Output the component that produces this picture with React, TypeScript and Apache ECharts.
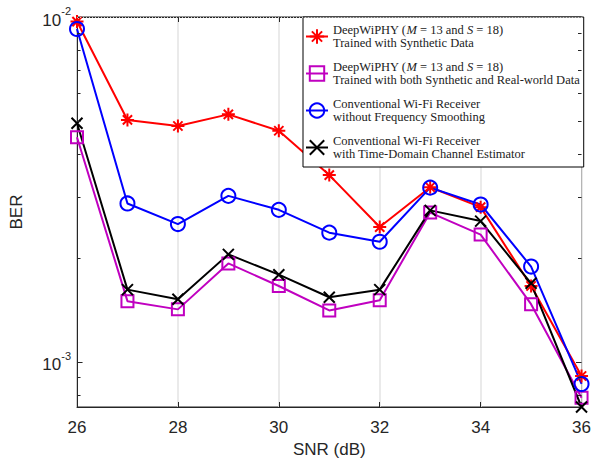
import React, { useEffect, useRef } from "react";
import * as echarts from "echarts";

const snr = [26, 27, 28, 29, 30, 31, 32, 33, 34, 35, 36];
const deepSynthetic = [9.7e-3, 5.03e-3, 4.83e-3, 5.22e-3, 4.68e-3, 3.48e-3, 2.46e-3, 3.21e-3, 2.81e-3, 1.66e-3, 9.1e-4];
const deepBoth = [4.48e-3, 1.5e-3, 1.42e-3, 1.93e-3, 1.66e-3, 1.41e-3, 1.51e-3, 2.71e-3, 2.34e-3, 1.47e-3, 7.87e-4];
const convNoSmooth = [9.23e-3, 2.88e-3, 2.51e-3, 3.03e-3, 2.76e-3, 2.37e-3, 2.23e-3, 3.2e-3, 2.86e-3, 1.89e-3, 8.63e-4];
const convTimeDomain = [4.92e-3, 1.62e-3, 1.52e-3, 2.05e-3, 1.79e-3, 1.54e-3, 1.62e-3, 2.75e-3, 2.56e-3, 1.69e-3, 7.4e-4];

const seriesNames = [
  "{t|DeepWiPHY (}{i|M}{t| = 13 and }{i|S}{t| = 18)}\n{t|Trained with Synthetic Data}",
  "{t|DeepWiPHY (}{i|M}{t| = 13 and }{i|S}{t| = 18)}\n{t|Trained with both Synthetic and Real-world Data}",
  "{t|Conventional Wi-Fi Receiver}\n{t|without Frequency Smoothing}",
  "{t|Conventional Wi-Fi Receiver}\n{t|with Time-Domain Channel Estimator}",
];
const minorGrid = [9e-3, 8e-3, 7e-3, 6e-3, 5e-3, 4e-3, 3e-3, 2e-3, 9e-4, 8e-4];
const majorGrid = [1e-3];

const STAR = "path://M0,-10L0,10M-10,0L10,0M-7.1,-7.1L7.1,7.1M-7.1,7.1L7.1,-7.1";
const CROSS = "path://M-10,-10L10,10M-10,10L10,-10";

export default function App() {
  const ref = useRef<HTMLDivElement>(null);
  useEffect(() => {
    const chart = echarts.init(ref.current!, null, { renderer: "svg" });
    const axisColor = "#262626";
    const mk = (name: string, data: number[], color: string, symbol: string, size: number) => ({
      type: "line",
      name,
      data: snr.map((x, i) => [x, data[i]]),
      symbol,
      symbolSize: size,
      showSymbol: true,
      z: 3,
      lineStyle: { color, width: 2 },
      itemStyle: { color: "rgba(0,0,0,0)", borderColor: color, borderWidth: 2 },
    });
    const tickSeg = (v: number, len: number) => [
      [{ coord: [26, v] }, { coord: [26 + len, v] }],
      [{ coord: [36 - len, v] }, { coord: [36, v] }],
    ];
    const serif = "'Liberation Serif', 'Times New Roman', serif";
    const legendFont = { fontFamily: serif, fontSize: 12.5, color: "#222", lineHeight: 13.5 };
    const option: any = {
      animation: false,
      textStyle: { fontFamily: "Liberation Sans" },
      grid: {
        left: 77,
        right: 12,
        top: 17,
        bottom: 56,
        show: true,
        borderColor: axisColor,
        borderWidth: 1,
        backgroundColor: "#fff",
      },
      legend: {
        data: seriesNames,
        orient: "vertical",
        left: 303,
        top: 17,
        backgroundColor: "#fff",
        borderColor: "#000",
        borderWidth: 1,
        borderRadius: 0,
        padding: [6, 4, 6, 2],
        itemGap: 10,
        itemWidth: 22,
        itemHeight: 18,
        selectedMode: false,
        textStyle: {
          ...legendFont,
          rich: {
            t: { ...legendFont },
            i: { ...legendFont, fontStyle: "italic" },
          },
        },
      },
      xAxis: [
        {
          type: "value",
          min: 26,
          max: 36,
          interval: 2,
          position: "bottom",
          name: "SNR (dB)",
          nameLocation: "middle",
          nameGap: 30,
          nameTextStyle: { fontSize: 17, color: axisColor, fontFamily: "Liberation Sans" },
          axisLine: { show: true, lineStyle: { color: axisColor } },
          axisTick: { show: true, inside: true, length: 5, lineStyle: { color: axisColor } },
          axisLabel: { fontSize: 17, color: axisColor, margin: 12, fontFamily: "Liberation Sans" },
          splitLine: { show: true, lineStyle: { color: "#e3e3e3", width: 1.5 } },
        },
        {
          type: "value",
          min: 26,
          max: 36,
          interval: 2,
          position: "top",
          axisLine: { show: true, lineStyle: { color: axisColor } },
          axisTick: { show: true, inside: true, length: 5, lineStyle: { color: axisColor } },
          axisLabel: { show: false },
          splitLine: { show: false },
        },
      ],
      yAxis: {
        type: "log",
        logBase: 10,
        min: 7.4e-4,
        max: 1e-2,
        name: "BER",
        nameLocation: "middle",
        nameGap: 52,
        nameTextStyle: { fontSize: 17, color: axisColor, fontFamily: "Liberation Sans" },
        axisLine: { show: true, lineStyle: { color: axisColor } },
        axisTick: { show: false },
        splitLine: { show: false },
        axisLabel: {
          margin: 6,
          color: axisColor,
          formatter: (v: number) => {
            const l = Math.log10(v);
            const r = Math.round(l);
            if (Math.abs(l - r) < 1e-6) return `{b|10}{s|${r}}`;
            return "";
          },
          rich: {
            b: { fontSize: 17, color: axisColor, fontFamily: "Liberation Sans", padding: [6, 0, 0, 0] },
            s: { fontSize: 11, color: axisColor, fontFamily: "Liberation Sans", verticalAlign: "top" },
          },
        },
      },
      series: [
        {
          type: "line",
          name: "grid",
          data: [],
          z: 1,
          silent: true,
          markLine: {
            silent: true,
            symbol: ["none", "none"],
            label: { show: false },
            data: [
              ...minorGrid.map((v) => ({ yAxis: v, lineStyle: { color: "#c8c8c8", type: [1, 2], width: 1 } })),
              ...majorGrid.map((v) => ({ yAxis: v, lineStyle: { color: "#e3e3e3", type: "solid", width: 1.5 } })),
              ...minorGrid.flatMap((v) => tickSeg(v, 0.07)).map((seg) => [
                { ...seg[0], lineStyle: { color: axisColor, type: "solid", width: 1 } },
                seg[1],
              ]),
              ...majorGrid.flatMap((v) => tickSeg(v, 0.11)).map((seg) => [
                { ...seg[0], lineStyle: { color: axisColor, type: "solid", width: 1 } },
                seg[1],
              ]),
            ],
          },
        },
        mk(seriesNames[0], deepSynthetic, "#ff0000", STAR, 13),
        mk(seriesNames[1], deepBoth, "#c000c0", "rect", 12),
        mk(seriesNames[2], convNoSmooth, "#0000ff", "circle", 14),
        mk(seriesNames[3], convTimeDomain, "#000000", CROSS, 11),
      ],
    };
    chart.setOption(option);
    return () => chart.dispose();
  }, []);
  return <div ref={ref} style={{ width: 594, height: 463, position: "absolute", left: 0, top: 0 }} />;
}
